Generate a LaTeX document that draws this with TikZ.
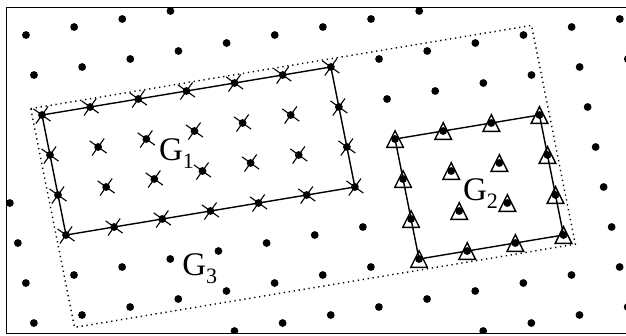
\documentclass[tikz,border=0pt]{standalone}
\usepackage{fontspec}
\setmainfont{Liberation Serif}

\newcommand{\gname}[1]{G\raisebox{-8pt}{\fontsize{22}{22}\selectfont #1}}

\begin{document}
\begin{tikzpicture}[x=1pt, y=-1pt, line width=1.4pt,
    glabel/.style={anchor=base west, inner sep=0pt, font=\fontsize{33}{36}\selectfont},
    lattice/.style={shift={(42,115)}, x={(48.15pt,8pt)}, y={(8pt,-40pt)}},
    xmark/.style={line width=1.1pt},
    border/.style={line width=1.4pt, dash pattern=on 1.3pt off 3.7pt}]
  \useasboundingbox (0,0) rectangle (626,335);
  % all lattice points, cut at the frame
  \begin{scope}
    \clip (6.7,7.3) rectangle (626,333.3);
    \begin{scope}[lattice]
      \foreach \i in {-2,...,13}
        \foreach \j in {-3,...,7}
          \fill (\i,\j) circle (3.9pt);
    \end{scope}
  \end{scope}
  \begin{scope}[lattice]
    \coordinate (g1a) at (0,0);  \coordinate (g1b) at (6,0);
    \coordinate (g1c) at (6,3);  \coordinate (g1d) at (0,3);
    \coordinate (g2a) at (7,2);  \coordinate (g2b) at (10,2);
    \coordinate (g2c) at (10,5); \coordinate (g2d) at (7,5);
    % whole region
    \draw[border] (-0.2,-0.2) -- (10.2,-0.2) -- (10.2,5.27) -- (-0.2,5.27) -- cycle;
    \draw (g1a) -- (g1b) -- (g1c) -- (g1d) -- cycle;
    \draw (g2a) -- (g2b) -- (g2c) -- (g2d) -- cycle;
    % crosses on G1
    \foreach \i in {0,...,6}
      \foreach \j in {0,...,3}
        \draw[xmark] (\i,\j) ++(-6.1pt,-8.5pt) -- ++(12.2pt,17pt)
                     (\i,\j) ++(8.5pt,-6.1pt) -- ++(-17pt,12.2pt);
    % triangles on G2
    \foreach \i in {7,...,10}
      \foreach \j in {2,...,5}
        \draw (\i,\j) ++(0pt,8.3pt) -- ++(8.3pt,-16.6pt) -- ++(-16.6pt,0pt) -- cycle;
  \end{scope}
  \node[glabel] (g1) at (158.3,160) {\gname{1}};
  \node[glabel] (g2) at (462.3,200) {\gname{2}};
  \node[glabel] (g3) at (181.7,275) {\gname{3}};
  % frame
  \draw (6.7,7.3) -- (626,7.3) (6.7,7.3) -- (6.7,333.3) -- (626,333.3);
\end{tikzpicture}
\end{document}
